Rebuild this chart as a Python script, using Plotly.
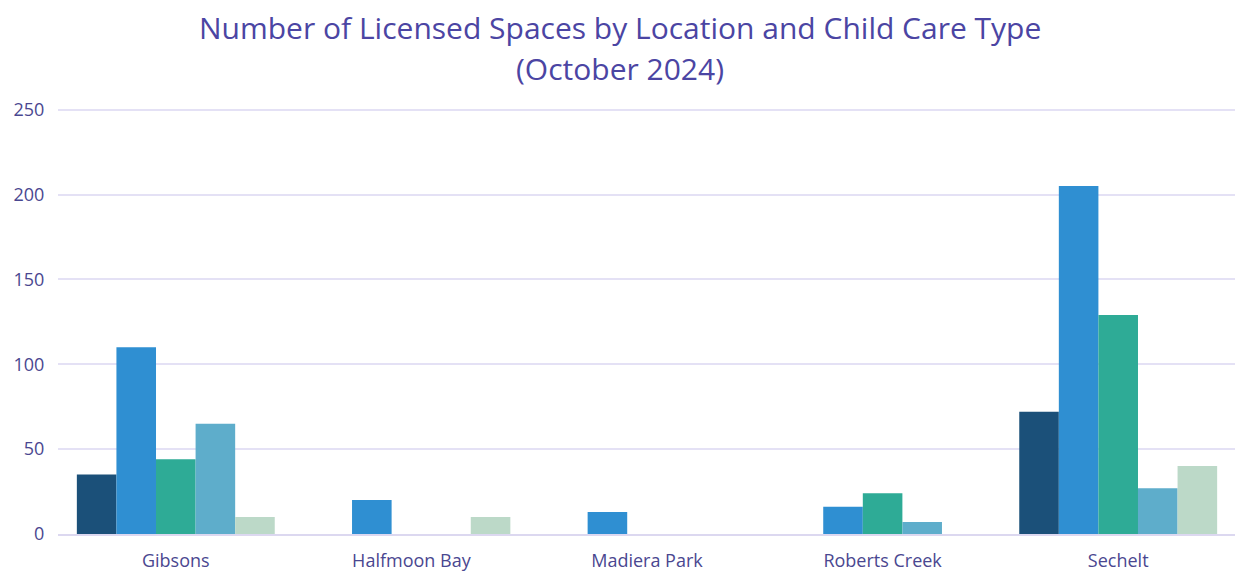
import plotly.graph_objects as go

locations = ["Gibsons", "Halfmoon Bay", "Madiera Park", "Roberts Creek", "Sechelt"]
series_names = ["Infant/Toddler", "Group 3-5 Years", "Preschool", "School Age", "Multi-Age"]
values_s1 = [35, None, None, None, 72]
values_s2 = [110, 20, 13, 16, 205]
values_s3 = [44, None, None, 24, 129]
values_s4 = [65, None, None, 7, 27]
values_s5 = [10, 10, None, None, 40]
colors = ["#1b5079", "#2f8fd2", "#2eab96", "#5eadcb", "#bcd9c8"]
title_lines = ["Number of Licensed Spaces by Location and Child Care Type", "(October 2024)"]

all_values = [values_s1, values_s2, values_s3, values_s4, values_s5]

fig = go.Figure()
for name, vals, col in zip(series_names, all_values, colors):
    fig.add_trace(go.Bar(x=locations, y=vals, name=name, marker=dict(color=col, line=dict(width=0))))

title_font = dict(family="Open Sans", size=30, color="#4b45a3")
fig.add_annotation(text=title_lines[0], xref="paper", yref="paper", x=0.4775, y=1.1885,
                   xanchor="center", yanchor="middle", showarrow=False, font=title_font)
fig.add_annotation(text=title_lines[1], xref="paper", yref="paper", x=0.4775, y=1.093,
                   xanchor="center", yanchor="middle", showarrow=False, font=title_font)

fig.update_layout(
    barmode="group",
    bargap=0.16,
    bargroupgap=0,
    showlegend=False,
    width=1243,
    height=575,
    paper_bgcolor="white",
    plot_bgcolor="white",
    margin=dict(l=50, r=15, t=100, b=49, autoexpand=False),
    font=dict(family="Open Sans", color="#4a4790"),
)
fig.update_xaxes(showgrid=False, showline=True, linecolor="#dcd8f0", linewidth=2, automargin=False,
                 tickfont=dict(family="Open Sans", size=18, color="#4a4790"),
                 ticks="outside", ticklen=9, tickcolor="rgba(0,0,0,0)")
fig.update_yaxes(range=[0, 251], tickvals=[0, 50, 100, 150, 200, 250], showgrid=True,
                 gridcolor="#e4e1f5", gridwidth=2, automargin=False,
                 zeroline=False, tickfont=dict(family="Open Sans", size=18, color="#4a4790"),
                 ticks="outside", ticklen=9, tickcolor="rgba(0,0,0,0)")

fig.write_html("out.html")
